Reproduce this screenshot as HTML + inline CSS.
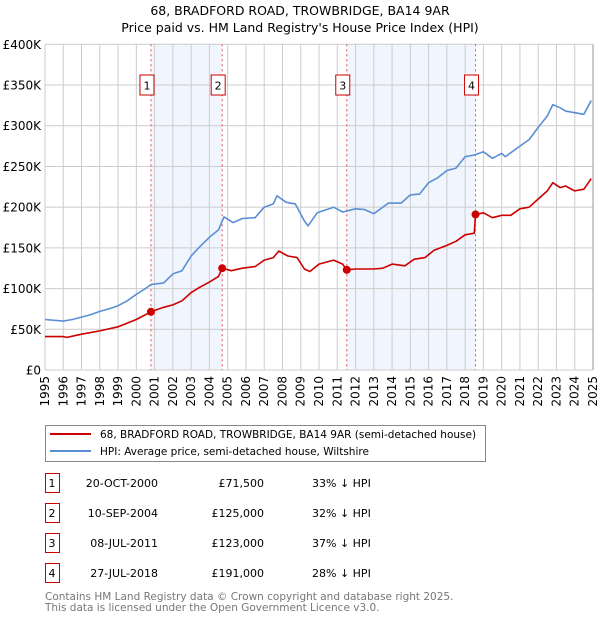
<!DOCTYPE html>
<html><head><meta charset="utf-8"><style>
body{margin:0;background:#fff;width:600px;height:620px;overflow:hidden;font-family:"DejaVu Sans","Liberation Sans",sans-serif;}
svg text{font-family:"DejaVu Sans","Liberation Sans",sans-serif;}
</style></head><body>
<svg id="chart" width="600" height="620" viewBox="0 0 600 620" xmlns="http://www.w3.org/2000/svg">
<text x="300" y="15" text-anchor="middle" font-size="12.5">68, BRADFORD ROAD, TROWBRIDGE, BA14 9AR</text>
<text x="300" y="32" text-anchor="middle" font-size="12.5">Price paid vs. HM Land Registry's House Price Index (HPI)</text>
<g id="plot"></g>
<g>
<rect x="45.5" y="425.5" width="440" height="36" fill="#fff" stroke="#888"/>
<line x1="50" y1="434" x2="91" y2="434" stroke="#cc0000" stroke-width="2"/>
<text x="100" y="438" font-size="10.5">68, BRADFORD ROAD, TROWBRIDGE, BA14 9AR (semi-detached house)</text>
<line x1="50" y1="451" x2="91" y2="451" stroke="#5b8fd4" stroke-width="2"/>
<text x="100" y="455" font-size="10.5">HPI: Average price, semi-detached house, Wiltshire</text>
</g>
<g id="table"></g>
<text x="45" y="600" font-size="10.5" fill="#777">Contains HM Land Registry data © Crown copyright and database right 2025.</text>
<text x="45" y="611" font-size="10.5" fill="#777">This data is licensed under the Open Government Licence v3.0.</text>
</svg>
<script>
const hpiYears=[1995,1995.5,1996,1996.5,1997,1997.5,1998,1998.5,1999,1999.5,2000,2000.5,2000.8,2001.5,2002,2002.5,2003,2003.5,2004,2004.5,2004.8,2005.3,2005.8,2006.5,2007,2007.5,2007.7,2008.2,2008.7,2009.2,2009.4,2009.9,2010.8,2011.3,2012,2012.5,2013,2013.8,2014.5,2015,2015.5,2016,2016.5,2017,2017.5,2018,2018.5,2019,2019.5,2020,2020.2,2021,2021.5,2022,2022.5,2022.8,2023.2,2023.5,2024,2024.5,2024.9];
const hpiValues=[62,61,60,62,65,68,72,75,79,85,93,100,105,107,118,122,140,152,163,172,188,181,186,187,200,204,214,206,204,183,177,193,200,194,198,197,192,205,205,215,216,230,236,245,248,262,264,268,260,266,262,275,283,298,312,326,322,318,316,314,331];
const priceYears=[1995,1996,1996.2,1997,1998,1999,2000,2000.8,2001.5,2002,2002.5,2003,2003.5,2004,2004.5,2004.7,2005.2,2005.8,2006.5,2007,2007.5,2007.8,2008.3,2008.8,2009.2,2009.5,2010,2010.8,2011.3,2011.5,2012,2013,2013.5,2014,2014.7,2015.2,2015.8,2016.3,2017,2017.5,2018,2018.5,2018.57,2019,2019.5,2020,2020.5,2021,2021.5,2022,2022.5,2022.8,2023.2,2023.5,2024,2024.5,2024.9];
const priceValues=[41,41,40,44,48,53,62,71.5,77,80,85,95,102,108,115,125,122,125,127,135,138,146,140,138,124,121,130,135,130,123,124,124,125,130,128,136,138,147,153,158,166,168,191,193,187,190,190,198,200,210,220,230,224,226,220,222,235];
const saleLabels=["1","2","3","4"];
const saleYears=[2000.8,2004.7,2011.52,2018.57];
const saleValues=[71.5,125,123,191];
const saleDates=["20-OCT-2000","10-SEP-2004","08-JUL-2011","27-JUL-2018"];
const salePrices=["£71,500","£125,000","£123,000","£191,000"];
const saleDiffs=["33% ↓ HPI","32% ↓ HPI","37% ↓ HPI","28% ↓ HPI"];
const yTicks=[0,50,100,150,200,250,300,350,400];
const yTickLabels=["£0","£50K","£100K","£150K","£200K","£250K","£300K","£350K","£400K"];
const xTicks=[1995,1996,1997,1998,1999,2000,2001,2002,2003,2004,2005,2006,2007,2008,2009,2010,2011,2012,2013,2014,2015,2016,2017,2018,2019,2020,2021,2022,2023,2024,2025];

const NS="http://www.w3.org/2000/svg";
const L=45,R=593,T=44.3,B=370;
const xs=y=>L+(y-1995)*(R-L)/30;
const ys=v=>B-v*(B-T)/400;
const plot=document.getElementById('plot');
function mk(tag,attrs,parent){const e=document.createElementNS(NS,tag);for(const k in attrs)e.setAttribute(k,attrs[k]);(parent||plot).appendChild(e);return e;}
for(let i=0;i<4;i+=2){
  const r=mk('rect',{x:xs(saleYears[i]),y:T,width:xs(saleYears[i+1])-xs(saleYears[i]),height:B-T,fill:'#eef3fc',opacity:0.8});
  
  
}
xTicks.forEach(t=>{const g=mk('line',{x1:xs(t),x2:xs(t),y1:T,y2:B,stroke:'#ccc','stroke-width':1});


const tx=mk('text',{x:0,y:0,'font-size':12,'text-anchor':'end',transform:`translate(${xs(t)+4},${B+6}) rotate(-90)`});
tx.textContent=t;

});
yTicks.forEach((t,i)=>{const g=mk('line',{x1:L,x2:R,y1:ys(t),y2:ys(t),stroke:'#ccc','stroke-width':1});


const tx=mk('text',{x:L-4,y:ys(t)+4.5,'font-size':12,'text-anchor':'end'});
tx.textContent=yTickLabels[i];

});
saleYears.forEach((y,i)=>{
 const l=mk('line',{x1:xs(y),x2:xs(y),y1:T,y2:B,stroke:'#e05050','stroke-width':1,'stroke-dasharray':'2,3'});
 
 
 const b=mk('rect',{x:xs(y)-11,y:ys(350)-10,width:14,height:20,fill:'#fff',stroke:'#cc0000'});
 
 
 const t=mk('text',{x:xs(y)-4,y:ys(350)+4.5,'font-size':11,'text-anchor':'middle'});
 t.textContent=saleLabels[i];
 
 
});
function path(xa,va,color,name){
 const d=xa.map((x,i)=>(i?'L':'M')+xs(x).toFixed(1)+','+ys(va[i]).toFixed(1)).join('');
 const p=mk('path',{d:d,fill:'none',stroke:color,'stroke-width':1.6,'stroke-linejoin':'round'});
 
 
}
path(hpiYears,hpiValues,'#5b8fd4','hpi-line');
path(priceYears,priceValues,'#cc0000','price-paid-line');
saleYears.forEach((y,i)=>{const c=mk('circle',{cx:xs(y),cy:ys(saleValues[i]),r:4,fill:'#cc0000'});

});
mk('line',{x1:R,x2:R,y1:T,y2:B,stroke:'#999'});
const tb=document.getElementById('table');
saleLabels.forEach((s,i)=>{
 const cy=483+i*30;
 const r=mk('rect',{x:45.5,y:cy-9.5,width:14,height:19,fill:'#fff',stroke:'#cc0000'},tb);
 
 
 const cells=[[52,s,'middle'],[158,saleDates[i],'end'],[264,salePrices[i],'end'],[312,saleDiffs[i],'start']];
 cells.forEach((c,j)=>{const t=mk('text',{x:c[0],y:cy+4,'font-size':11,'text-anchor':c[2]},tb);
 t.textContent=c[1];
 
 });
});
</script>
</body></html>
